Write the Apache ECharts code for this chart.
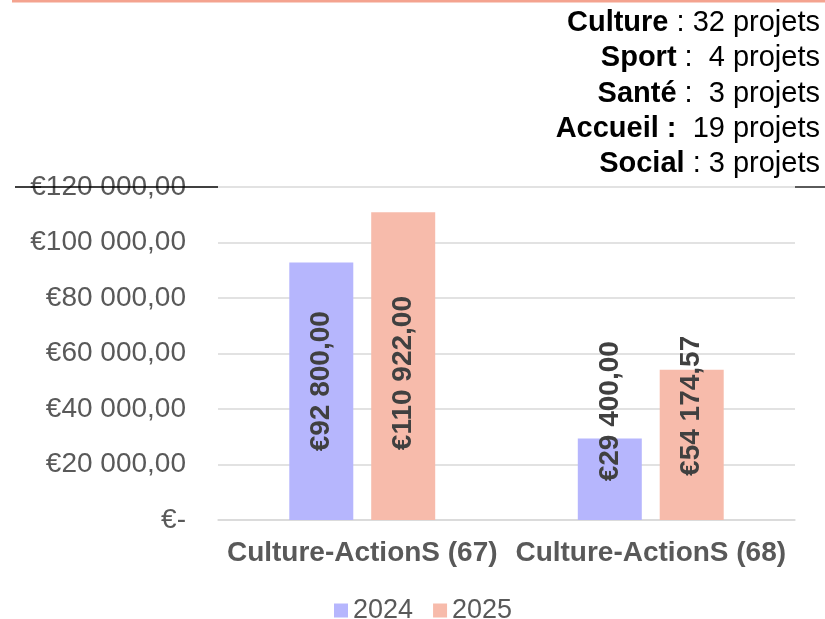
<!DOCTYPE html>
<html>
<head>
<meta charset="utf-8">
<style>html,body{margin:0;padding:0;background:#fff;}#c{width:825px;height:619px;}</style>
<script src="https://cdn.jsdelivr.net/npm/echarts@6/dist/echarts.min.js"></script>
</head>
<body>
<div id="c"></div>
<script>
const categories = ['Culture-ActionS (67)', 'Culture-ActionS (68)'];
const seriesNames = ['2024', '2025'];
const values2024 = [92800, 29400];
const values2025 = [110922, 54174.57];
const labelShift2024 = [10, 68];
const labelShift2025 = [-7, 39];
const domains = ['Culture', 'Sport', 'Santé', 'Accueil :', 'Social'];
const domainSep = [' : ', ' :  ', ' :  ', '  ', ' : '];
const domainCounts = [32, 4, 3, 19, 3];

function euro(v) {
  if (v === 0) return '€-';
  const parts = v.toFixed(2).split('.');
  const intPart = parts[0].replace(/\B(?=(\d{3})+(?!\d))/g, ' ');
  return '€' + intPart + ',' + parts[1];
}

const chart = echarts.init(document.getElementById('c'));
const FONT = '"Liberation Sans", Arial, sans-serif';

function mk(vals, shifts) {
  return vals.map((v, i) => ({ value: v, label: { offset: [shifts[i], 0] } }));
}

const textLines = domains.map((d, i) => ({
  type: 'text',
  x: 820,
  y: 23 + i * 35.3,
  style: {
    text: '{b|' + d + '}' + domainSep[i] + domainCounts[i] + ' projets',
    rich: {
      b: { fontWeight: 'bold', fontSize: 29, fontFamily: FONT, fill: '#000' }
    },
    fontSize: 29,
    fontFamily: FONT,
    fill: '#000',
    align: 'right',
    verticalAlign: 'middle'
  }
}));

const labelCfg = { show: true, position: 'inside', rotate: 90, fontSize: 28, fontWeight: 'bold', color: '#404040', fontFamily: FONT, formatter: p => euro(p.value) };

chart.setOption({
  animation: false,
  textStyle: { fontFamily: FONT },
  grid: { left: 218, right: 30, top: 187, bottom: 99, containLabel: false },
  legend: {
    data: seriesNames,
    left: 329,
    top: 592,
    itemWidth: 14,
    itemHeight: 14,
    itemGap: 20,
    icon: 'rect',
    textStyle: { fontSize: 27, color: '#595959', fontFamily: FONT }
  },
  xAxis: {
    type: 'category',
    data: categories,
    axisLine: { lineStyle: { color: '#D9D9D9', width: 1.5 } },
    axisTick: { show: false },
    axisLabel: { interval: 0, hideOverlap: false, fontSize: 28, fontWeight: 'bold', color: '#595959', margin: 19, fontFamily: FONT }
  },
  yAxis: {
    type: 'value',
    min: 0,
    max: 120000,
    interval: 20000,
    axisLine: { show: false },
    axisTick: { show: false },
    splitLine: { lineStyle: { color: '#D9D9D9', width: 1.5 } },
    axisLabel: { fontSize: 28, color: '#595959', margin: 32, fontFamily: FONT, formatter: v => euro(v) }
  },
  series: [
    {
      name: seriesNames[0], type: 'bar', barWidth: 64, barGap: '28%',
      itemStyle: { color: '#B6B6FD' },
      data: mk(values2024, labelShift2024),
      label: labelCfg
    },
    {
      name: seriesNames[1], type: 'bar', barWidth: 64,
      itemStyle: { color: '#F7BBAB' },
      data: mk(values2025, labelShift2025),
      label: labelCfg
    }
  ],
  graphic: [
    { type: 'line', shape: { x1: 12, y1: 1, x2: 825, y2: 1 }, style: { stroke: '#F4A38F', lineWidth: 3 } },
    { type: 'line', shape: { x1: 15, y1: 187, x2: 218, y2: 187 }, style: { stroke: '#000', lineWidth: 1.3 }, z: 100 },
    { type: 'line', shape: { x1: 795, y1: 187, x2: 825, y2: 187 }, style: { stroke: '#000', lineWidth: 1.3 }, z: 100 }
  ].concat(textLines)
});
</script>
</body>
</html>
